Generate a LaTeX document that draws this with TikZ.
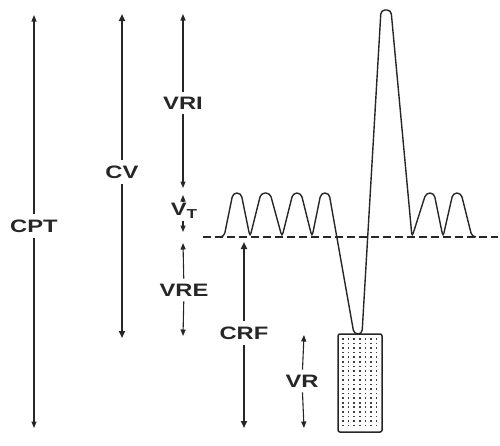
\documentclass[tikz,border=0pt]{standalone}
\usepackage{fontspec}
\newfontfamily\labfont[FakeStretch=1.32]{Liberation Sans}
\usetikzlibrary{arrows.meta}
\begin{document}
\begin{tikzpicture}[x=1pt,y=-1pt,
  lab/.style={text=black!85,font=\labfont\bfseries\fontsize{18}{19}\selectfont,inner sep=5pt},
  thinarr/.style={draw=black!85,line width=1.1pt,-{Triangle[length=6.5pt,width=5pt]}},
  thickarr/.style={draw=black!85,line width=2.3pt,-{Triangle[length=7pt,width=6pt]}},
  wave/.style={draw=black!85,line width=1.4pt,rounded corners=4pt},
  base/.style={draw=black!85,line width=1.2pt,dash pattern=on 8pt off 4pt}]
\useasboundingbox (0,0) rectangle (500,445);
% labels
\node[lab] (cpt) at (34,226) {CPT};
\node[lab] (cv) at (122,172) {CV};
\node[lab] (vri) at (183,103) {VRI};
\node[lab,inner sep=2pt] (vt) at (184,211) {V\raisebox{-2.5pt}{\fontsize{13}{13}\selectfont T}};
\node[lab] (vre) at (184,290) {VRE};
\node[lab] (crf) at (244,333) {CRF};
\node[lab] (vr) at (302,381) {VR};
% end points
\coordinate (cptT) at (34,15);  \coordinate (cptB) at (34,428);
\coordinate (cvT) at (122,14);  \coordinate (cvB) at (122,338);
\coordinate (vriT) at (183,14); \coordinate (vriB) at (183,188);
\coordinate (vtT) at (183,195); \coordinate (vtB) at (183,232);
\coordinate (vreT) at (183,243); \coordinate (vreB) at (183,336);
\coordinate (crfT) at (244,242); \coordinate (crfB) at (244,428);
\coordinate (vrT) at (304,335); \coordinate (vrB) at (304,428);
% arrows
\draw[thinarr] (cpt) -- (cptT); \draw[thinarr] (cpt) -- (cptB);
\draw[thickarr] (cv) -- (cvT);  \draw[thickarr] (cv) -- (cvB);
\draw[thinarr] (vri) -- (vriT); \draw[thinarr] (vri) -- (vriB);
\draw[thinarr] (vt.north -| vtT) -- (vtT);   \draw[thinarr] (vt.south -| vtB) -- (vtB);
\draw[thinarr] (vre) -- (vreT); \draw[thinarr] (vre) -- (vreB);
\draw[thickarr] (crf) -- (crfT); \draw[thickarr] (crf) -- (crfB);
\draw[thinarr] (vr) -- (vrT);   \draw[thinarr] (vr) -- (vrB);
% baseline
\coordinate (bl) at (203,237); \coordinate (br) at (498,237);
\draw[base] (bl) -- (br);
% waveform
\draw[wave] (218,237) -- (224,237) -- (233,193) -- (241,193) -- (250,237)
  -- (261,193) -- (270,193) -- (282,237) -- (293,193) -- (301,193) -- (312,237)
  -- (321,193) -- (329,193) -- (354,334) -- (362,334) -- (381,10) -- (391,10)
  -- (412,237) -- (426,193) -- (434,193) -- (443,237) -- (453,193) -- (461,193)
  -- (472,237) -- (476,237);
% reservoir box
\node[draw=black!85,line width=1.5pt,rounded corners=2pt,minimum width=44pt,minimum height=98pt,inner sep=0pt] (box) at (360,383) {};
\foreach \i in {0,...,6}{
  \foreach \j in {0,...,19}{
    \fill[black!75] ({343+5.6*\i-0.8},{339+4.55*\j-0.8}) rectangle ++(1.6,1.6);
  }
}
\end{tikzpicture}
\end{document}
